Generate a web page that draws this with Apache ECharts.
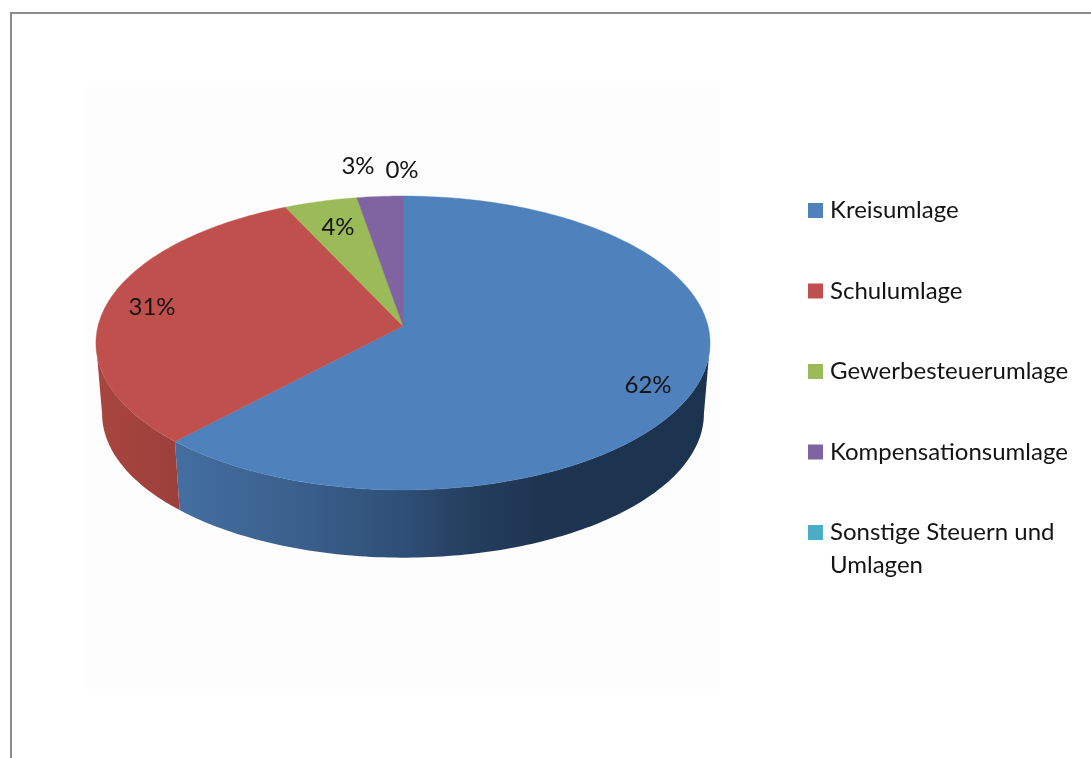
<!DOCTYPE html>
<html>
<head>
<meta charset="utf-8">
<style>html,body{margin:0;padding:0;background:#fff}#c{width:1091px;height:758px}</style>
<script src="https://cdn.jsdelivr.net/npm/echarts@6/dist/echarts.min.js"></script>
</head>
<body>
<div id="c"></div>
<script>
// --- data ---
var categories = ['Kreisumlage', 'Schulumlage', 'Gewerbesteuerumlage', 'Kompensationsumlage', 'Sonstige Steuern und Umlagen'];
var shares = [62.0, 31.0, 4.3, 2.7, 0.0];
// --- styling ---
var topColors = ['#4f81bd', '#c0504d', '#9bbb59', '#8064a2', '#4bacc6'];
var labelCenters = [[648, 385], [152, 307], [338, 227], [358, 166], [402, 170]];
var FONT = 'Lato, "Open Sans", sans-serif';
var TEXT = '#141414';
var wallGradients = [
  [[181, '#436e9f'], [300, '#3a5f8c'], [400, '#2f5076'], [470, '#243e5e'], [540, '#1e3552'], [710, '#1c3350']],
  [[100, '#a8453f'], [181, '#9c3f3b']]
];
// --- projection of the tilted disc ---
var CX = 403, CY = 326, RX = 305, RY = 145, K = 0.1156;
var FLOOR_Y = 397, FLOOR_S = 0.98;
var total = shares.reduce(function (a, b) { return a + b; }, 0);
var TAU = Math.PI * 2;
function topPoint(t) {
  var u = Math.sin(t), v = Math.cos(t), w = 1 + K * v;
  return [CX + RX * u / w, CY - RY * v / w];
}
function floorPoint(t) {
  var u = Math.sin(t), v = Math.cos(t), w = 1 + K * v;
  return [CX + FLOOR_S * RX * u / w, FLOOR_Y - FLOOR_S * RY * v / w];
}
function samples(a, b) {
  var n = Math.max(1, Math.ceil((b - a) / (Math.PI / 180))), out = [];
  for (var i = 0; i <= n; i++) out.push(a + (b - a) * i / n);
  return out;
}
var VIS_A = Math.acos(-K), VIS_B = TAU - VIS_A;
function gradientFor(i) {
  var stops = wallGradients[i];
  if (!stops) return topColors[i];
  var x0 = stops[0][0], x1 = stops[stops.length - 1][0];
  return {
    type: 'linear', global: true, x: x0, y: 0, x2: x1, y2: 0,
    colorStops: stops.map(function (s) { return { offset: (s[0] - x0) / (x1 - x0), color: s[1] }; })
  };
}
function makeSeries(name, i) {
  var before = shares.slice(0, i).reduce(function (a, b) { return a + b; }, 0);
  return {
    type: 'custom',
    name: name,
    coordinateSystem: 'none',
    silent: true,
    itemStyle: { color: topColors[i] },
    data: [shares[i]],
    renderItem: function (params, api) {
      var value = api.value(0);
      var a = before / total * TAU, b = (before + value) / total * TAU;
      var children = [];
      var wa = Math.max(a, VIS_A), wb = Math.min(b, VIS_B);
      if (wb > wa) {
        var s = samples(wa, wb);
        var pts = s.map(topPoint).concat(s.slice().reverse().map(floorPoint));
        children.push({ type: 'polygon', z2: 1, shape: { points: pts }, style: { fill: gradientFor(i), stroke: null } });
      }
      if (b > a) {
        var face = [[CX, CY]].concat(samples(a, b).map(topPoint));
        children.push({ type: 'polygon', z2: 2, shape: { points: face }, style: { fill: topColors[i], stroke: topColors[i], lineWidth: 0.4 } });
      }
      children.push({
        type: 'text', z2: 5, x: labelCenters[i][0], y: labelCenters[i][1],
        style: { text: Math.round(value / total * 100) + '%', fill: TEXT, font: '24px ' + FONT, align: 'center', verticalAlign: 'middle' }
      });
      return { type: 'group', children: children };
    }
  };
}
var legendBase = {
  orient: 'vertical', left: 808, itemWidth: 15, itemHeight: 15, itemGap: 47.5, icon: 'rect',
  selectedMode: false, padding: 0,
  textStyle: { fontFamily: FONT, fontSize: 24, color: TEXT, lineHeight: 33, padding: [0, 0, 0, 2] }
};
var option = {
  animation: false,
  backgroundColor: '#ffffff',
  graphic: [
    { type: 'rect', z: -1, silent: true, shape: { x: 87, y: 87, width: 633, height: 603 }, style: { fill: '#fdfdfd' } },
    { type: 'line', z: -1, silent: true, shape: { x1: 11, y1: 13, x2: 1091, y2: 13 }, style: { stroke: '#8c8c8c', lineWidth: 2 } },
    { type: 'line', z: -1, silent: true, shape: { x1: 11, y1: 12, x2: 11, y2: 758 }, style: { stroke: '#8c8c8c', lineWidth: 2 } }
  ],
  legend: [
    Object.assign({}, legendBase, { top: 194, data: categories.slice(0, 4) }),
    Object.assign({}, legendBase, {
      top: 483, data: categories.slice(4),
      formatter: function () { return '\nSonstige Steuern und\nUmlagen'; }
    })
  ],
  series: categories.map(makeSeries)
};
var chart = echarts.init(document.getElementById('c'), null, { renderer: 'canvas' });
chart.setOption(option);
</script>
</body>
</html>
